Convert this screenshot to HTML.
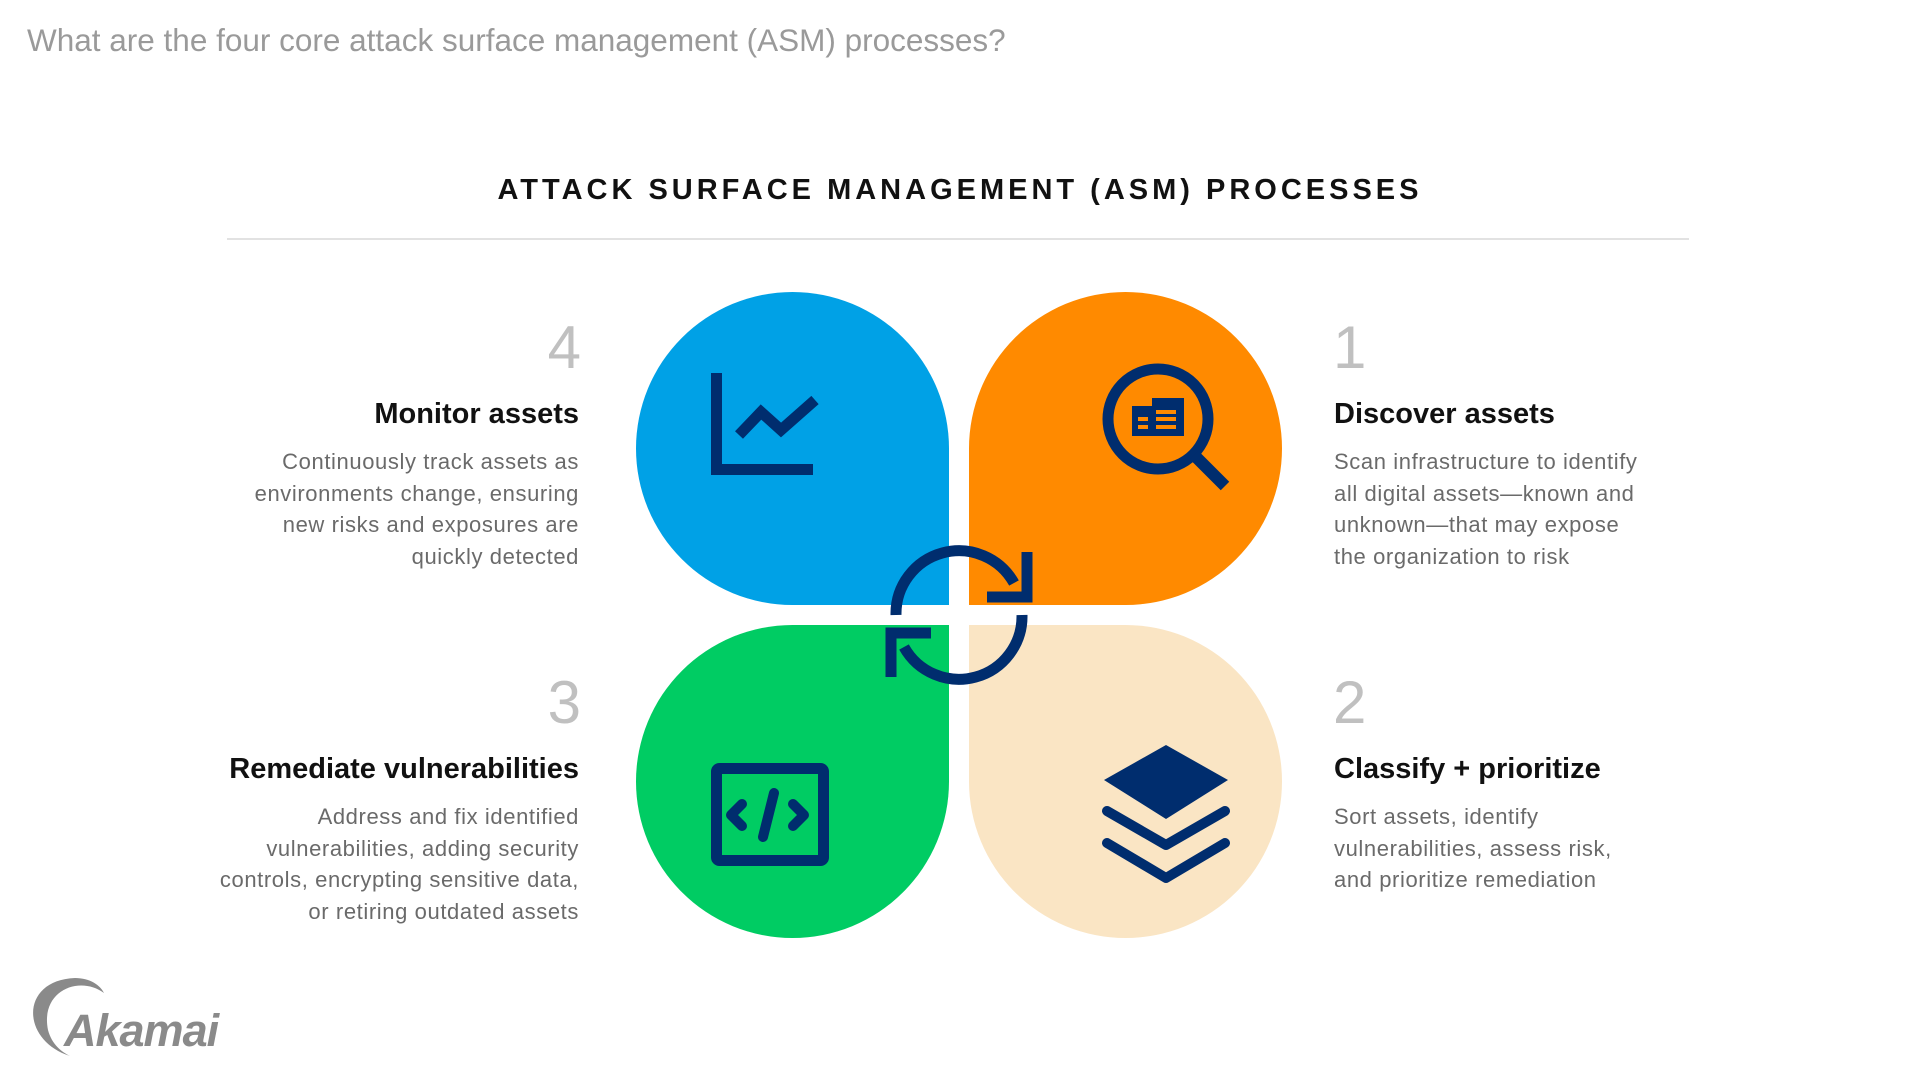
<!DOCTYPE html>
<html><head><meta charset="utf-8"><style>
html,body{margin:0;padding:0;background:#fff;}
body{width:1920px;height:1080px;position:relative;overflow:hidden;font-family:"Liberation Sans",sans-serif;}
.abs{position:absolute;}
.sub{left:27px;top:22px;font-size:31.5px;color:#9a9a9a;white-space:nowrap;}
.title{left:0;width:1920px;text-align:center;top:174px;font-size:29px;letter-spacing:4px;color:#111;font-weight:bold;}
.rule{left:227px;top:238px;width:1462px;height:2px;background:#e2e2e2;}
.num{font-size:60px;color:#c0c0c0;line-height:60px;}
.h{font-size:29px;font-weight:bold;color:#111;line-height:32px;white-space:nowrap;}
.b{font-size:22px;letter-spacing:0.6px;color:#6a6a6a;line-height:31.5px;white-space:nowrap;}
.r{text-align:right;}
</style></head><body>
<div class="abs sub">What are the four core attack surface management (ASM) processes?</div>
<div class="abs title">ATTACK SURFACE MANAGEMENT (ASM) PROCESSES</div>
<div class="abs rule"></div>

<svg class="abs" style="left:0;top:0" width="1920" height="1080">
 <g transform="translate(1,7)">
 <path d="M948 598 H791.5 A156.5 156.5 0 1 1 948 441.5 Z" fill="#00a1e6"/>
 <path d="M968 598 H1124.5 A156.5 156.5 0 1 0 968 441.5 Z" fill="#ff8a00"/>
 <path d="M948 618 H791.5 A156.5 156.5 0 1 0 948 774.5 Z" fill="#00cc63"/>
 <path d="M968 618 H1124.5 A156.5 156.5 0 1 1 968 774.5 Z" fill="#fae5c4"/>
 <g stroke="#002d6e" stroke-width="11" fill="none">
  <path d="M895 608 A63 63 0 0 1 1013 576"/>
  <path d="M1021 608 A63 63 0 0 1 903 640"/>
  <polyline points="1026,545 1026,590 986,590"/>
  <polyline points="890,670 890,626 930,626"/>
  <polyline points="715.5,366 715.5,462.5 812,462.5"/>
  <polyline points="738,428 760,405 780,423 814,393"/>
  <circle cx="1157" cy="412" r="50"/>
  <line x1="1193" y1="448" x2="1224" y2="479" stroke-width="12"/>
  <rect x="715.5" y="761.5" width="107" height="92" rx="3"/>
 </g>
 <g fill="#002d6e">
  <path d="M1131 399 H1151 V391 H1183 V429 H1131 Z"/>
  <rect x="1137" y="410" width="10" height="4" fill="#ff8a00"/>
  <rect x="1137" y="418" width="10" height="4" fill="#ff8a00"/>
  <rect x="1155" y="403" width="20" height="4" fill="#ff8a00"/>
  <rect x="1155" y="410" width="20" height="4" fill="#ff8a00"/>
  <rect x="1155" y="418" width="20" height="4" fill="#ff8a00"/>
  <path d="M1165 738 L1227 773 L1165 812 L1103 773 Z"/>
 </g>
 <g stroke="#002d6e" stroke-width="10" fill="none" stroke-linejoin="round" stroke-linecap="round">
  <polyline points="1106,804 1165,838 1224,804"/>
  <polyline points="1106,836 1165,871 1224,836"/>
  <polyline points="741,797 730,808 741,819"/>
  <polyline points="792,797 803,808 792,819"/>
  <line x1="773" y1="786" x2="762" y2="830"/>
 </g>
 </g>
 <path d="M70 1056 C 20 1040, 20 980, 75 978 C 90 978, 100 985, 104 993 C 80 975, 40 990, 48 1030 C 52 1045, 62 1052, 70 1056 Z" fill="#8a8a8a"/>
</svg>
<div class="abs" style="left:64px;top:1005px;font-size:45px;font-weight:bold;font-style:italic;color:#8a8a8a;letter-spacing:-1px;">Akamai</div>

<div class="abs num" style="left:1333px;top:318px;">1</div>
<div class="abs h" style="left:1334px;top:398px;">Discover assets</div>
<div class="abs b" style="left:1334px;top:446px;">Scan infrastructure to identify<br>all digital assets—known and<br>unknown—that may expose<br>the organization to risk</div>

<div class="abs num" style="left:1333px;top:673px;">2</div>
<div class="abs h" style="left:1334px;top:753px;">Classify + prioritize</div>
<div class="abs b" style="left:1334px;top:801px;">Sort assets, identify<br>vulnerabilities, assess risk,<br>and prioritize remediation</div>

<div class="abs num r" style="left:379px;width:202px;top:318px;">4</div>
<div class="abs h r" style="left:79px;width:500px;top:398px;">Monitor assets</div>
<div class="abs b r" style="left:79px;width:500px;top:446px;">Continuously track assets as<br>environments change, ensuring<br>new risks and exposures are<br>quickly detected</div>

<div class="abs num r" style="left:379px;width:202px;top:673px;">3</div>
<div class="abs h r" style="left:29px;width:550px;top:753px;">Remediate vulnerabilities</div>
<div class="abs b r" style="left:29px;width:550px;top:801px;">Address and fix identified<br>vulnerabilities, adding security<br>controls, encrypting sensitive data,<br>or retiring outdated assets</div>
</body></html>
